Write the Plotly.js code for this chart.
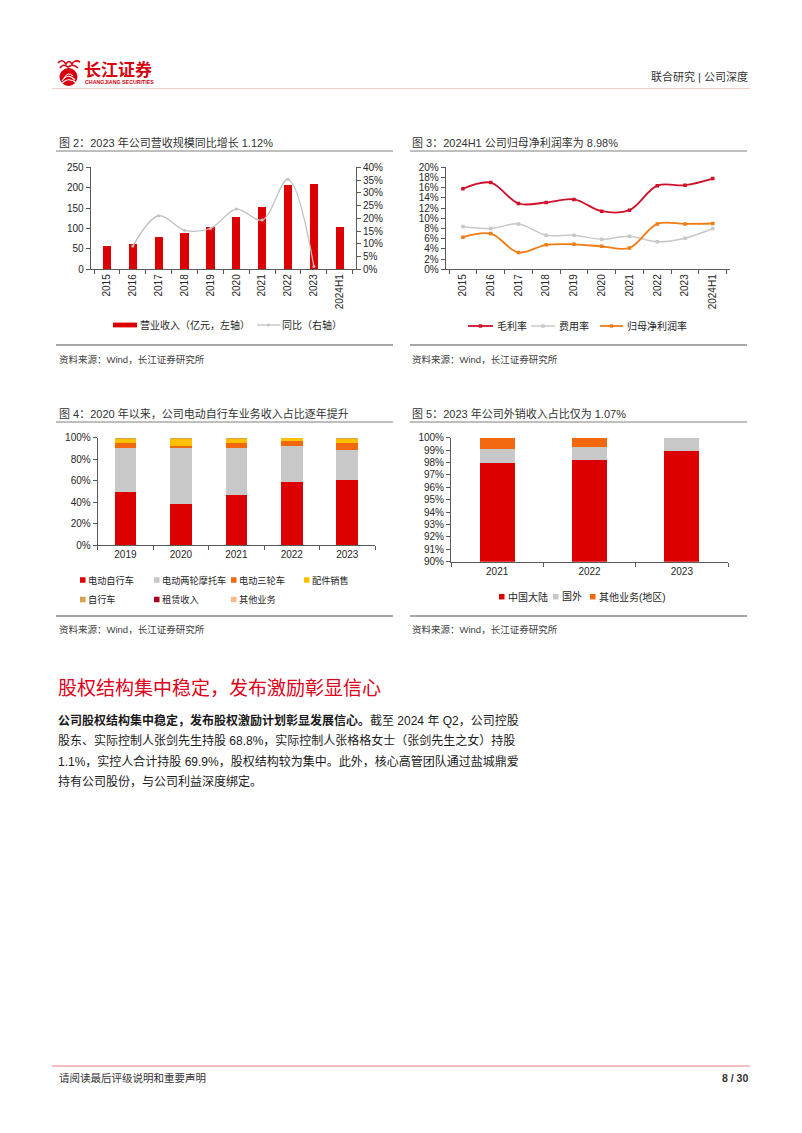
<!DOCTYPE html>
<html><head><meta charset="utf-8">
<script src="https://cdn.plot.ly/plotly-3.0.1.min.js"></script>
<style>html,body{margin:0;padding:0;background:#fff}#page{width:802px;height:1133px}</style>
</head><body><div id="page"></div>
<script>
// ---------- 图2 data ----------
const years1 = ['2015','2016','2017','2018','2019','2020','2021','2022','2023','2024H1'];
const revenue = [57, 62, 78, 89, 103, 127, 153, 207, 209, 103];
const revenueYoY = [null, 9.1, 21.0, 15.3, 16.0, 23.6, 19.3, 35.3, 1.12, null];
const fig2Names = ['营业收入（亿元，左轴）', '同比（右轴）'];
// ---------- 图3 data ----------
const grossMargin  = [15.8, 17.0, 12.9, 13.1, 13.7, 11.4, 11.6, 16.4, 16.5, 17.8];
const expenseRatio = [8.4, 8.0, 8.9, 6.7, 6.7, 5.9, 6.5, 5.4, 6.1, 8.0];
const netMargin    = [6.3, 7.0, 3.3, 4.8, 4.9, 4.5, 4.2, 8.9, 8.9, 8.98];
const fig3Names = ['毛利率', '费用率', '归母净利润率'];
// ---------- 图4 data ----------
const years3 = ['2019','2020','2021','2022','2023'];
const segEbike = [49.7, 38.2, 46.6, 58.4, 60.9];
const segEmoto = [41.0, 52.5, 43.5, 33.6, 27.6];
const segEtri  = [4.1, 1.8, 4.7, 4.6, 6.3];
const segParts = [4.0, 6.3, 4.2, 3.1, 4.1];
const segBike  = [0.6, 0.6, 0.5, 0.2, 0.6];
const segRent  = [0.0, 0.0, 0.0, 0.0, 0.0];
const segOther = [0.6, 0.6, 0.5, 0.1, 0.5];
const fig4Names = ['电动自行车','电动两轮摩托车','电动三轮车','配件销售','自行车','租赁收入','其他业务'];
// ---------- 图5 data ----------
const years4 = ['2021','2022','2023'];
const regMainland = [97.98, 98.20, 98.93];
const regOverseas = [1.08, 1.05, 1.07];
const regOther    = [0.94, 0.75, 0.00];
const fig5Names = ['中国大陆','国外','其他业务(地区)'];

// ---------- helpers ----------
const W = 802, H = 1133;
const fx = x => x / W, fy = y => 1 - y / H;
const FONT = 'Liberation Sans, Arial, Noto Sans CJK SC, sans-serif';
const AX = '#595959';
const TXT = '#262626';
const tickFont = {family: FONT, size: 10, color: TXT};

function xAx(l, r, anchor, extra) {
  return Object.assign({domain: [fx(l), fx(r)], anchor: anchor, type: 'category',
    showline: true, linecolor: AX, linewidth: 1, ticks: 'outside', ticklen: 4, tickcolor: AX,
    tickson: 'boundaries', showgrid: false, zeroline: false, tickfont: tickFont, fixedrange: true}, extra || {});
}
function yAx(b, t, anchor, range, dtick, extra) {
  return Object.assign({domain: [fy(b), fy(t)], anchor: anchor, range: range, dtick: dtick,
    showline: true, linecolor: AX, linewidth: 1, ticks: 'outside', ticklen: 4, tickcolor: AX,
    showgrid: false, zeroline: false, tickfont: tickFont, fixedrange: true}, extra || {});
}

const C = {
  red: '#dc0000', gray: '#c8c8c8', orange: '#f2680f', yellow: '#ffc000',
  bike: '#d4a24c', rent: '#a8001e', other: '#f8b888', line: '#c0c0c0',
  crimson: '#d0102a', lorange: '#f07c15'
};

// ---------- traces ----------
const traces = [];
traces.push({type: 'bar', x: years1, y: revenue, name: fig2Names[0], xaxis: 'x', yaxis: 'y',
  marker: {color: C.red}, width: 0.32, showlegend: false, hoverinfo: 'skip'});
traces.push({type: 'scatter', mode: 'lines+markers', x: years1, y: revenueYoY, name: fig2Names[1],
  xaxis: 'x', yaxis: 'y2', line: {color: C.line, width: 1.3, shape: 'spline', smoothing: 1},
  marker: {size: 3, color: C.line}, showlegend: false, hoverinfo: 'skip'});

const f3 = [[grossMargin, C.crimson, 1.8], [expenseRatio, C.gray, 1.5], [netMargin, C.lorange, 1.8]];
f3.forEach((s, i) => traces.push({type: 'scatter', mode: 'lines+markers', x: years1, y: s[0],
  name: fig3Names[i], xaxis: 'x2', yaxis: 'y3',
  line: {color: s[1], width: s[2], shape: 'spline', smoothing: 1},
  marker: {size: 3.5, color: s[1], symbol: 'square'}, showlegend: false, hoverinfo: 'skip'}));

const f4 = [[segEbike, C.red], [segEmoto, C.gray], [segEtri, C.orange], [segParts, C.yellow],
            [segBike, C.bike], [segRent, C.rent], [segOther, C.other]];
f4.forEach((s, i) => traces.push({type: 'bar', x: years3, y: s[0], name: fig4Names[i],
  xaxis: 'x3', yaxis: 'y4', marker: {color: s[1]}, width: 0.39, showlegend: false, hoverinfo: 'skip'}));

const f5 = [[regMainland, C.red], [regOverseas, C.gray], [regOther, C.orange]];
f5.forEach((s, i) => traces.push({type: 'bar', x: years4, y: s[0], name: fig5Names[i],
  xaxis: 'x4', yaxis: 'y5', marker: {color: s[1]}, width: 0.38, showlegend: false, hoverinfo: 'skip'}));

// ---------- shapes & annotations ----------
const shapes = [], ann = [];
function hline(x0, x1, y, color, w) {
  shapes.push({type: 'line', xref: 'paper', yref: 'paper', x0: fx(x0), x1: fx(x1), y0: fy(y), y1: fy(y),
    line: {color: color, width: w}});
}
function rect(x0, x1, y0, y1, color) {
  shapes.push({type: 'rect', xref: 'paper', yref: 'paper', x0: fx(x0), x1: fx(x1), y0: fy(y1), y1: fy(y0),
    fillcolor: color, line: {width: 0}});
}
function path(d, fill, stroke, w) {
  const s = d.map(c => c[0] + ' ' + c.slice(1).map((v, k) => (k % 2 === 0 ? fx(v) : fy(v)).toFixed(5)).join(',')).join(' ');
  shapes.push({type: 'path', xref: 'paper', yref: 'paper', path: s, fillcolor: fill || 'rgba(0,0,0,0)',
    line: {color: stroke || 'rgba(0,0,0,0)', width: w || 0}});
}
function text(x, y, t, size, color, anchor, extra) {
  ann.push(Object.assign({xref: 'paper', yref: 'paper', x: fx(x), y: fy(y), text: t, showarrow: false,
    xanchor: anchor || 'left', yanchor: 'middle', borderpad: 0,
    font: {family: FONT, size: size, color: color || TXT}}, extra || {}));
}

// header
shapes.push({type: 'circle', xref: 'paper', yref: 'paper', x0: fx(59.5), x1: fx(77.5), y0: fy(86), y1: fy(68),
  fillcolor: '#d7000f', line: {width: 0}});
path([['M', 62, 81], ['Q', 68, 72, 75, 80]], null, '#ffffff', 1.2);
path([['M', 61.5, 84], ['Q', 68, 76, 76.5, 83]], null, '#ffffff', 1.2);
path([['M', 64, 78], ['Q', 68, 71, 73, 76]], null, '#ffffff', 1);
path([['M', 58, 63], ['Q', 62, 58, 66, 64], ['Q', 69, 59, 72, 64], ['Q', 75, 59, 80, 62]], null, '#d7000f', 1.6);
path([['M', 60, 68], ['Q', 63, 63, 68, 67], ['Q', 73, 63, 78, 68]], null, '#d7000f', 1.6);
text(83, 70.5, '<b>长江证券</b>', 17, '#d7000f');
text(83.5, 82.3, '<b>CHANGJIANG SECURITIES</b>', 5.3, '#d7000f');
text(749, 77, '联合研究 | 公司深度', 11, '#333333', 'right');
hline(52, 750, 88.5, '#f6cccc', 1.2);

// chart titles
text(58, 142.5, '图 2：2023 年公司营收规模同比增长 1.12%', 11, '#333333');
text(411, 142.5, '图 3：2024H1 公司归母净利润率为 8.98%', 11, '#333333');
text(58, 413, '图 4：2020 年以来，公司电动自行车业务收入占比逐年提升', 11, '#333333');
text(411, 413, '图 5：2023 年公司外销收入占比仅为 1.07%', 11, '#333333');
hline(56, 393, 151, '#7f7f7f', 1);
hline(410, 747, 151, '#7f7f7f', 1);
hline(56, 393, 422, '#7f7f7f', 1);
hline(410, 747, 422, '#7f7f7f', 1);

// bottom separators & sources
[345, 616].forEach(y => { hline(56, 393, y, '#a6a6a6', 2); hline(410, 747, y, '#a6a6a6', 2); });
const src = '资料来源：Wind，长江证券研究所';
text(58, 359, src, 9.5, '#404040');
text(411, 359, src, 9.5, '#404040');
text(58, 630, src, 9.5, '#404040');
text(411, 630, src, 9.5, '#404040');

// legend fig2
rect(113, 137, 322.6, 327.4, C.red);
text(139, 325, fig2Names[0], 10, TXT);
hline(257, 280, 325, C.line, 1.3);
shapes.push({type: 'circle', xref: 'paper', yref: 'paper', x0: fx(267), x1: fx(270), y0: fy(326.5), y1: fy(323.5),
  fillcolor: C.line, line: {width: 0}});
text(281, 325, fig2Names[1], 10, TXT);

// legend fig3
[[468, 493, C.crimson, 1.8, 496], [531, 555, C.gray, 1.5, 558], [600, 623, C.lorange, 1.8, 626]].forEach((l, i) => {
  hline(l[0], l[1], 326, l[2], l[3]);
  const m = (l[0] + l[1]) / 2;
  rect(m - 1.7, m + 1.7, 324.3, 327.7, l[2]);
  text(l[4], 326, fig3Names[i], 10, TXT);
});

// legend fig4
const lg4 = [[80, 580], [154, 580], [231, 580], [304, 580], [80, 599.5], [154, 599.5], [231, 599.5]];
lg4.forEach((p, i) => {
  rect(p[0], p[0] + 5.5, p[1] - 2.75, p[1] + 2.75, f4[i][1]);
  text(p[0] + 7, p[1], fig4Names[i], 9.2, TXT);
});
// legend fig5
[[499, 596.7], [553, 596.7], [590, 596.7]].forEach((p, i) => {
  rect(p[0], p[0] + 5.5, p[1] - 2.75, p[1] + 2.75, f5[i][1]);
  text(p[0] + 7.5, p[1], fig5Names[i], 10, TXT);
});

// section text
text(57, 688, '股权结构集中稳定，发布激励彰显信心', 19, '#e0001b');
const para = [
  '<b>公司股权结构集中稳定，发布股权激励计划彰显发展信心。</b>截至 2024 年 Q2，公司控股',
  '股东、实际控制人张剑先生持股 68.8%，实际控制人张格格女士（张剑先生之女）持股',
  '1.1%，实控人合计持股 69.9%，股权结构较为集中。此外，核心高管团队通过盐城鼎爱',
  '持有公司股份，与公司利益深度绑定。'
];
para.forEach((t, i) => text(57, 720 + i * 20.6, t, 12, '#1a1a1a'));

// footer
hline(52, 750, 1066, '#f2a9a9', 1.5);
text(58, 1078, '请阅读最后评级说明和重要声明', 10.5, '#333333');
text(749, 1078, '<b>8 / 30</b>', 10.5, '#333333', 'right');

// ---------- layout ----------
const layout = {
  width: W, height: H, margin: {l: 0, r: 0, t: 0, b: 0, pad: 0},
  paper_bgcolor: '#ffffff', plot_bgcolor: 'rgba(0,0,0,0)',
  barmode: 'stack', showlegend: false, font: {family: FONT, color: TXT},
  xaxis: xAx(90.7, 356, 'y', {tickangle: -90}),
  yaxis: yAx(269.3, 167.3, 'x', [0, 250], 50),
  yaxis2: {overlaying: 'y', side: 'right', anchor: 'x', range: [0, 40], dtick: 5, ticksuffix: '%',
    showline: true, linecolor: AX, linewidth: 1, ticks: 'outside', ticklen: 4, tickcolor: AX,
    showgrid: false, zeroline: false, tickfont: tickFont, fixedrange: true},
  xaxis2: xAx(445.7, 730, 'y3', {tickangle: -90}),
  yaxis3: yAx(269.3, 167.3, 'x2', [0, 20], 2, {ticksuffix: '%'}),
  xaxis3: xAx(97.7, 375, 'y4'),
  yaxis4: yAx(545, 437.7, 'x3', [0, 100], 20, {ticksuffix: '%'}),
  xaxis4: xAx(451, 728, 'y5'),
  yaxis5: yAx(561.7, 437.7, 'x4', [90, 100], 1, {ticksuffix: '%'}),
  shapes: shapes, annotations: ann
};
Plotly.newPlot('page', traces, layout, {staticPlot: true, displayModeBar: false});
</script>
</body></html>
